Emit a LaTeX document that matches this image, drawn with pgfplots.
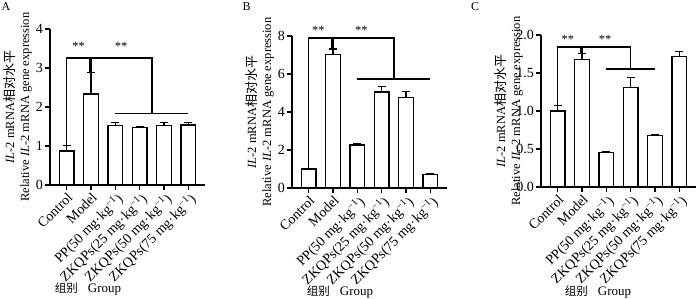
\documentclass[border=0pt]{standalone}
\usepackage{pgfplots}
\pgfplotsset{compat=1.18}
\usepackage{pgfplotstable}
\usepackage{fontspec}
\setmainfont{Liberation Serif}
\newfontfamily\cjk{Noto Sans CJK SC}

\pgfplotstableread{
x y e
0 0.87 0.14
1 2.33 0.55
2 1.53 0.08
3 1.48 0.02
4 1.53 0.08
5 1.54 0.07
}\dataA
\pgfplotstableread{
x y e
0 1.00 0.00
1 7.04 0.27
2 2.26 0.05
3 5.06 0.29
4 4.78 0.31
5 0.72 0.04
}\dataB
\pgfplotstableread{
x y e
0 1.00 0.07
1 1.68 0.075
2 0.45 0.01
3 1.31 0.135
4 0.676 0.017
5 1.72 0.06
}\dataC

\pgfplotsset{
  panel/.style={
    scale only axis, width=155pt,
    xmin=-0.68, xmax=5.68, ymin=0,
    axis x line*=bottom, axis y line*=left,
    axis line style={line width=1.6pt, -},
    xtick={0,...,5},
    xticklabels={Control, Model, {PP(50 mg·kg\textsuperscript{−1})}, {ZKQPs(25 mg·kg\textsuperscript{−1})}, {ZKQPs(50 mg·kg\textsuperscript{−1})}, {ZKQPs(75 mg·kg\textsuperscript{−1})}},
    x tick label style={rotate=45, anchor=north east, font=\fontsize{14}{14}\selectfont, inner sep=1pt},
    y tick label style={font=\fontsize{14}{14}\selectfont, inner sep=2pt},
    tick align=outside, major tick length=5pt,
    tick style={line width=1.4pt, black},
    ylabel style={at={(axis description cs:-0.116,0.5)}, anchor=south, align=center, inner sep=0pt, font=\fontsize{12.5}{15}\selectfont},
    ylabel={\textit{IL}-2 mRNA{\cjk\fontsize{13}{15}\selectfont 相对水平}\\Relative \textit{IL}-2 mRNA gene expression},
    clip=false,
    /pgf/number format/assume math mode=true,
  },
  bars/.style={ybar, bar width=14.6pt, fill=white, draw=black, line width=1.3pt,
    error bars/.cd, y dir=plus, y explicit,
    error bar style={line width=1.3pt, black},
    error mark options={rotate=90, line width=1.3pt, mark size=4pt, black}},
  sig/.style={line width=1.6pt, black, mark=none},
  thick sig/.style={line width=3pt, black, mark=none},
}

\begin{document}
\begin{tikzpicture}
\useasboundingbox (0,0) rectangle (700pt,299pt);

% Panel A
\begin{axis}[panel, at={(50pt,114pt)}, anchor=south west, height=156pt, ymax=4, ytick={0,1,2,3,4}]
\addplot[bars] table[x=x, y=y, y error=e] {\dataA};
\addplot[sig] coordinates {(0,1.01) (0,3.26) (3.5,3.26) (3.5,1.83)};
\addplot[sig] coordinates {(2,1.83) (5,1.83)};
\addplot[thick sig] coordinates {(1,3.26) (1,2.88)};
\node[anchor=base, font=\fontsize{12.5}{12.5}\selectfont] at (axis cs:0.49,3.44) {**};
\node[anchor=base, font=\fontsize{12.5}{12.5}\selectfont] at (axis cs:2.24,3.44) {**};
\end{axis}

% Panel B
\begin{axis}[panel, at={(292pt,111pt)}, anchor=south west, height=152pt, ymax=8, ytick={0,2,4,6,8}]
\addplot[bars] table[x=x, y=y, y error=e] {\dataB};
\addplot[sig] coordinates {(0,1.0) (0,7.91) (3.5,7.91) (3.5,5.75)};
\addplot[sig] coordinates {(2,5.75) (5,5.75)};
\addplot[thick sig] coordinates {(1,7.91) (1,7.31)};
\node[anchor=base, font=\fontsize{12.5}{12.5}\selectfont] at (axis cs:0.4,8.08) {**};
\node[anchor=base, font=\fontsize{12.5}{12.5}\selectfont] at (axis cs:2.17,8.08) {**};
\end{axis}

% Panel C
\begin{axis}[panel, at={(541pt,112pt)}, anchor=south west, height=152pt, ymax=2, ytick={0,0.5,1,1.5,2},
  yticklabel style={/pgf/number format/.cd, fixed, fixed zerofill, precision=1}]
\addplot[bars] table[x=x, y=y, y error=e] {\dataC};
\addplot[sig] coordinates {(0,1.07) (0,1.843) (3,1.843) (3,1.55)};
\addplot[sig] coordinates {(2,1.55) (4,1.55)};
\addplot[thick sig] coordinates {(1,1.843) (1,1.755)};
\node[anchor=base, font=\fontsize{12.5}{12.5}\selectfont] at (axis cs:0.42,1.89) {**};
\node[anchor=base, font=\fontsize{12.5}{12.5}\selectfont] at (axis cs:1.95,1.89) {**};
\end{axis}

% Panel letters and group labels
\node[font=\fontsize{12}{12}\selectfont] at (6pt,292pt) {A};
\node[font=\fontsize{12}{12}\selectfont] at (246.5pt,292.5pt) {B};
\node[font=\fontsize{12}{12}\selectfont] at (475pt,292pt) {C};
\node[font=\fontsize{13}{13}\selectfont] at (88pt,9.5pt) {{\cjk\fontsize{11.5}{13}\selectfont 组别}\hspace{10pt}Group};
\node[font=\fontsize{13}{13}\selectfont] at (340pt,7pt) {{\cjk\fontsize{11.5}{13}\selectfont 组别}\hspace{10pt}Group};
\node[font=\fontsize{13}{13}\selectfont] at (598pt,7pt) {{\cjk\fontsize{11.5}{13}\selectfont 组别}\hspace{10pt}Group};
\end{tikzpicture}
\end{document}
